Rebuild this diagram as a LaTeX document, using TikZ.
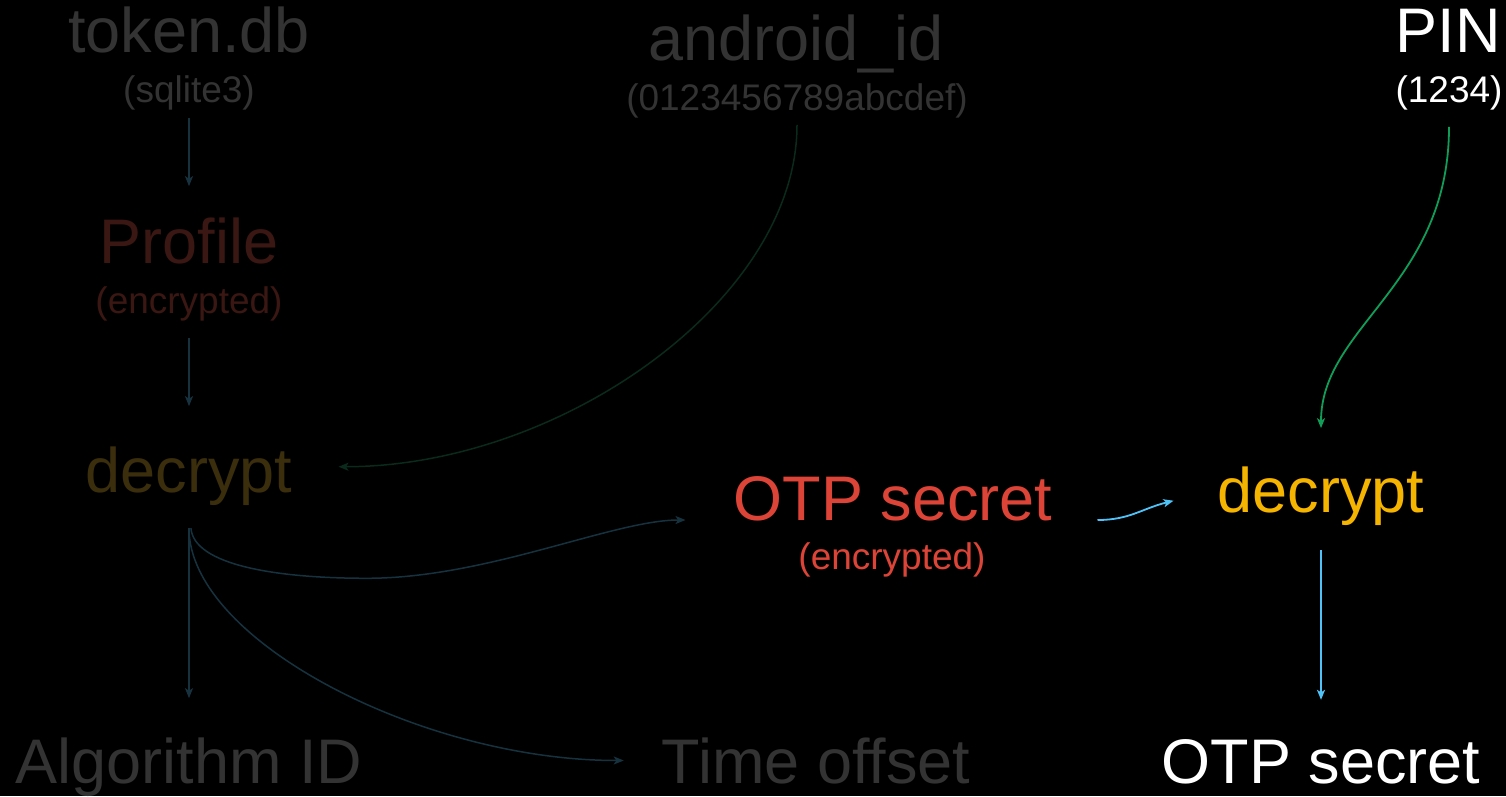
\documentclass[tikz,border=0pt]{standalone}
\usepackage{fontspec}
\setmainfont{Liberation Sans}
\usetikzlibrary{arrows.meta}
\definecolor{dimgray}{HTML}{333333}
\definecolor{dimred}{HTML}{3A1712}
\definecolor{dimyellow}{HTML}{3B2E0C}
\definecolor{dimblue}{HTML}{16323F}
\definecolor{dimgreen}{HTML}{0A2A1C}
\definecolor{otpred}{HTML}{DB4437}
\definecolor{decyellow}{HTML}{F4B400}
\definecolor{pingreen}{HTML}{0F9D58}
\definecolor{flowcyan}{HTML}{4FC3F7}

\begin{document}
\begin{tikzpicture}[> = {Stealth[length = 10pt, width = 8pt, inset = 2.5pt]},
    big/.style = {anchor = base, inner sep = 0pt, font = \fontsize{63}{70}\selectfont},
    small/.style = {anchor = base, inner sep = 0pt, font = \fontsize{37}{44}\selectfont},
    dimflow/.style = {->, line width = 1.5pt, draw = dimblue},
    brightflow/.style = {->, line width = 1.8pt}]

        \fill [black, use as bounding box] (0pt, 0pt) rectangle (1506pt, -796pt);

        % Left column
        \node [big, text = dimgray] (token) at (189pt, -52pt) {token.db};
        \node [small, text = dimgray] (sqlite) at (189pt, -102pt) {(sqlite3)};
        \node [big, text = dimred] (profile) at (189pt, -263pt) {Profile};
        \node [small, text = dimred] (profileenc) at (189pt, -313pt) {(encrypted)};
        \node [big, text = dimyellow] (decprofile) at (189pt, -492pt) {decrypt};
        \node [big, text = dimgray] (algo) at (189pt, -783pt) {Algorithm ID};

        % Middle column
        \node [big, text = dimgray] (android) at (796pt, -60pt) {android\_id};
        \node [small, text = dimgray] (androidval) at (797pt, -110pt) {(0123456789abcdef)};
        \node [big, text = otpred] (otpenc) at (893pt, -520pt) {OTP secret};
        \node [small, text = otpred] (otpencsub) at (892pt, -569pt) {(encrypted)};
        \node [big, text = dimgray] (offset) at (816pt, -783pt) {Time offset};

        % Right column
        \node [big, text = white] (pin) at (1448pt, -52pt) {PIN};
        \node [small, text = white] (pinval) at (1449pt, -102pt) {(1234)};
        \node [big, text = decyellow] (decotp) at (1321pt, -512pt) {decrypt};
        \node [big, text = white] (otpplain) at (1321pt, -783pt) {OTP secret};

        % Dim flow
        \draw [dimflow, shorten <= 8pt, shorten >= 31pt] (sqlite.south) -- (profile.north);
        \draw [dimflow, shorten <= 17pt, shorten >= 40pt] (profileenc.south) -- (decprofile.north);
        \draw [dimflow, shorten <= 23pt, shorten >= 39pt] (decprofile.south) -- (algo.north);
        \draw [dimflow, shorten <= 23pt, shorten >= 38pt] (decprofile.south) .. controls +(0pt, -135pt) and +(-240pt, 0pt) .. (offset.west);
        \draw [dimflow, shorten <= 23pt, shorten >= 48pt] (decprofile.south) .. controls +(5pt, -60pt) and +(-90pt, 0pt) .. ++(178pt, -73pt)
            .. controls +(120pt, 0pt) and +(-120pt, 0pt) .. (otpenc.base west);
        \draw [dimflow, draw = dimgreen, shorten <= 7pt, shorten >= 46pt] (androidval.south) .. controls +(0pt, -182pt) and +(268pt, 0pt) .. ([yshift = 9pt]decprofile.east);

        % Bright flow
        \draw [brightflow, draw = flowcyan] ([xshift = 45pt]otpenc.base east) .. controls +(32pt, 0pt) and +(-32pt, -8pt) .. ([xshift = -44pt, yshift = -5pt]decotp.west);
        \draw [brightflow, draw = pingreen, shorten <= 17pt, shorten >= 38pt] (pinval.south) .. controls +(0pt, -175pt) and +(0pt, 140pt) .. (decotp.north);
        \draw [brightflow, draw = flowcyan, shorten <= 25pt, shorten >= 39pt] (decotp.south) -- (otpplain.north);

\end{tikzpicture}
\end{document}
